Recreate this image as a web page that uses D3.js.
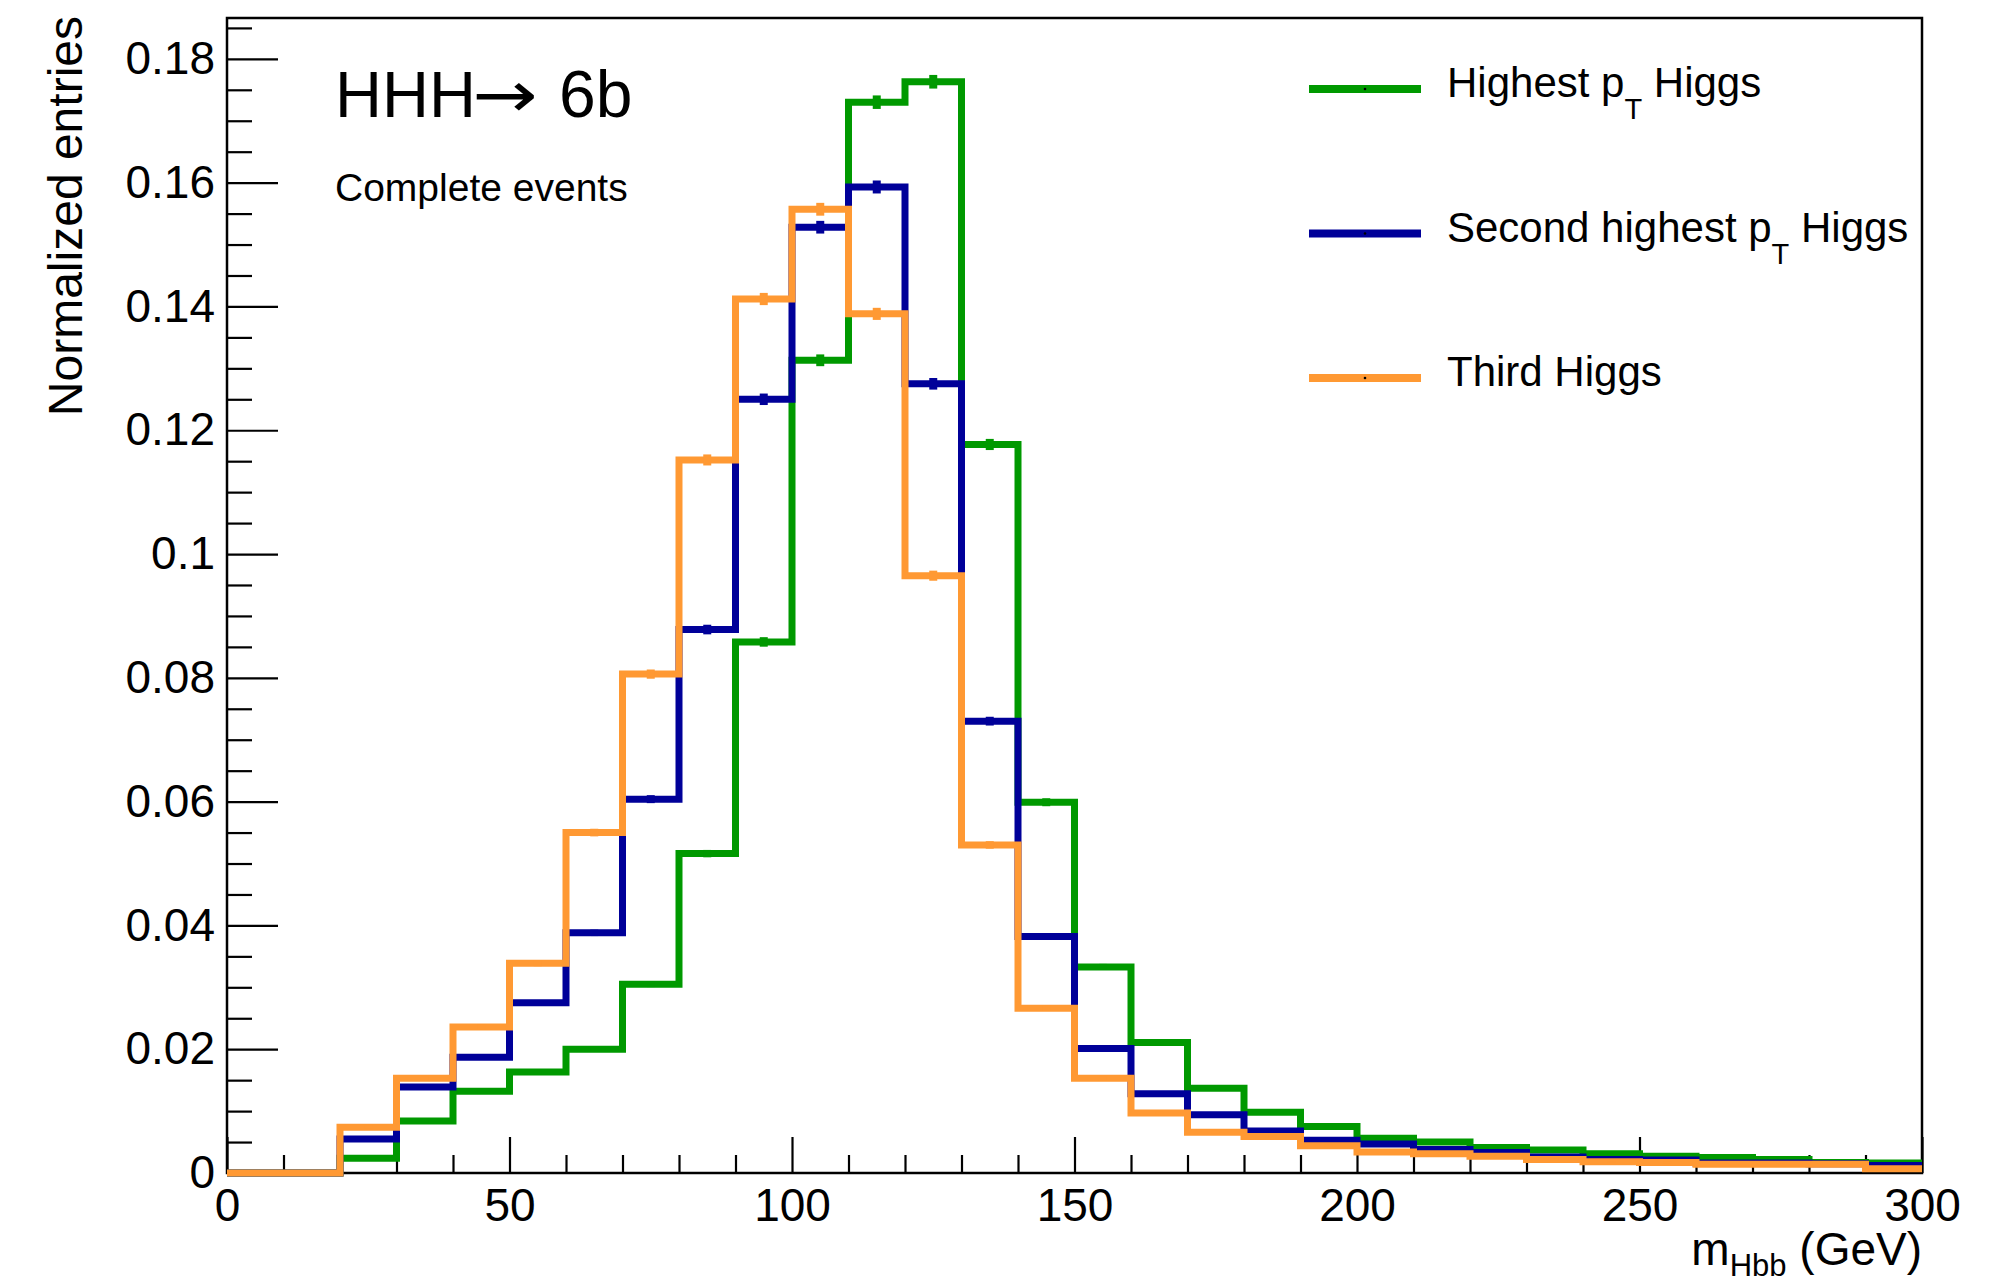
<!DOCTYPE html>
<html>
<head>
<meta charset="utf-8">
<script src="https://cdn.jsdelivr.net/npm/d3@7"></script>
<style>
  html, body { margin: 0; padding: 0; background: #ffffff; }
  svg { display: block; }
  text { font-family: "Liberation Sans", Arial, Helvetica, sans-serif; fill: #000; white-space: pre; }
</style>
</head>
<body>
<svg id="chart" width="2003" height="1277"></svg>
<script>
// m_Hbb bin edges (GeV), 10 GeV bins
const binEdges = [0, 10, 20, 30, 40, 50, 60, 70, 80, 90, 100, 110, 120, 130, 140, 150,
                  160, 170, 180, 190, 200, 210, 220, 230, 240, 250, 260, 270, 280, 290, 300];

// Normalized entries per bin
const highestPtHiggs = [0, 0, 0.0024, 0.0084, 0.0132, 0.0163, 0.0200, 0.0305, 0.0516, 0.0858,
                        0.1313, 0.1730, 0.1763, 0.1177, 0.0599, 0.0333, 0.0211, 0.0137, 0.0098, 0.0075,
                        0.0056, 0.0050, 0.0041, 0.0037, 0.0031, 0.0027, 0.0025, 0.0022, 0.0017, 0.0016];
const secondPtHiggs  = [0, 0, 0.0055, 0.0139, 0.0187, 0.0275, 0.0388, 0.0604, 0.0878, 0.1250,
                        0.1528, 0.1593, 0.1275, 0.0730, 0.0382, 0.0201, 0.0128, 0.0094, 0.0068, 0.0053,
                        0.0047, 0.0038, 0.0033, 0.0026, 0.0022, 0.0021, 0.0016, 0.0016, 0.0015, 0.0012];
const thirdHiggs     = [0, 0, 0.0074, 0.0153, 0.0236, 0.0339, 0.0550, 0.0806, 0.1152, 0.1412,
                        0.1557, 0.1388, 0.0965, 0.0530, 0.0266, 0.0153, 0.0097, 0.0066, 0.0059, 0.0044,
                        0.0034, 0.0031, 0.0027, 0.0022, 0.0018, 0.0017, 0.0014, 0.0014, 0.0014, 0.0007];

// Effective sample size used for the statistical error bars, sqrt(N)/N per bin
const sampleSize = 145000;

// Axis ticks and labels
const yMajorTicks = [0, 0.02, 0.04, 0.06, 0.08, 0.1, 0.12, 0.14, 0.16, 0.18];
const yTickLabels = ["0", "0.02", "0.04", "0.06", "0.08", "0.1", "0.12", "0.14", "0.16", "0.18"];
const xMajorTicks = [0, 50, 100, 150, 200, 250, 300];
const xTickLabels = ["0", "50", "100", "150", "200", "250", "300"];

const seriesNames  = ["Highest", "Second highest", "Third Higgs"];
const seriesColors = ["#009900", "#000099", "#ff9933"];

const series = [
  { values: highestPtHiggs, color: seriesColors[0], label: [seriesNames[0] + " p", "T", " Higgs"] },
  { values: secondPtHiggs,  color: seriesColors[1], label: [seriesNames[1] + " p", "T", " Higgs"] },
  { values: thirdHiggs,     color: seriesColors[2], label: [seriesNames[2]] }
];

const svg = d3.select("#chart");
const frame = { left: 227, right: 1922, top: 18, bottom: 1173 };

const x = d3.scaleLinear().domain([0, 300]).range([frame.left, frame.right]);
const y = d3.scaleLinear().domain([0, 0.1866]).range([frame.bottom, frame.top]);

svg.append("rect").attr("width", 2003).attr("height", 1277).attr("fill", "#fff");

// ---- axes (ticks point into the frame) ----
const yIdx = new Map(yMajorTicks.map((t, i) => [t, yTickLabels[i]]));
const xIdx = new Map(xMajorTicks.map((t, i) => [t, xTickLabels[i]]));

const yMinor = d3.range(0, 0.1866, 0.005).filter(v => !yMajorTicks.some(t => Math.abs(t - v) < 1e-9));
const xMinor = d3.range(0, 301, 10).filter(v => v % 50 !== 0);

const gyMinor = svg.append("g").attr("transform", `translate(${frame.left},0)`)
  .call(d3.axisLeft(y).tickValues(yMinor).tickSizeInner(-25).tickSizeOuter(0).tickFormat(""));
const gy = svg.append("g").attr("transform", `translate(${frame.left},0)`)
  .call(d3.axisLeft(y).tickValues(yMajorTicks).tickSizeInner(-51).tickSizeOuter(0)
        .tickPadding(12).tickFormat(d => yIdx.get(d)));

const gxMinor = svg.append("g").attr("transform", `translate(0,${frame.bottom})`)
  .call(d3.axisBottom(x).tickValues(xMinor).tickSizeInner(-18).tickSizeOuter(0).tickFormat(""));
const gx = svg.append("g").attr("transform", `translate(0,${frame.bottom})`)
  .call(d3.axisBottom(x).tickValues(xMajorTicks).tickSizeInner(-36).tickSizeOuter(0)
        .tickPadding(15).tickFormat(d => xIdx.get(d)));

[gyMinor, gy, gxMinor, gx].forEach(g => {
  g.select(".domain").remove();
  g.selectAll(".tick line").attr("stroke", "#000").attr("stroke-width", 2.2);
  g.selectAll(".tick text").attr("font-size", 46).attr("fill", "#000");
});

// frame
svg.append("rect")
  .attr("x", frame.left).attr("y", frame.top)
  .attr("width", frame.right - frame.left).attr("height", frame.bottom - frame.top)
  .attr("fill", "none").attr("stroke", "#000").attr("stroke-width", 2.5);

// ---- histograms ----
const stepLine = d3.line()
  .x(d => x(d[0]))
  .y(d => y(d[1]))
  .curve(d3.curveStepAfter);

series.forEach(s => {
  const pts = s.values.map((v, i) => [binEdges[i], v]);
  pts.push([binEdges[binEdges.length - 1], s.values[s.values.length - 1]]);

  const g = svg.append("g");
  g.append("path")
    .attr("d", stepLine(pts))
    .attr("fill", "none")
    .attr("stroke", s.color)
    .attr("stroke-width", 7)
    .attr("stroke-linejoin", "miter");

  // statistical error bars at bin centres
  g.selectAll("line.err")
    .data(s.values.map((v, i) => ({ c: (binEdges[i] + binEdges[i + 1]) / 2, v })).filter(d => d.v > 0))
    .join("line")
    .attr("class", "err")
    .attr("x1", d => x(d.c)).attr("x2", d => x(d.c))
    .attr("y1", d => y(d.v + Math.sqrt(d.v / sampleSize)))
    .attr("y2", d => y(Math.max(0, d.v - Math.sqrt(d.v / sampleSize))))
    .attr("stroke", s.color)
    .attr("stroke-width", 8);
});

// ---- text annotations ----
// process label: HHH -> 6b, with a long arrow
svg.append("text")
  .attr("x", 335).attr("y", 117)
  .attr("font-size", 65)
  .text("HHH");
svg.append("text")
  .attr("transform", "translate(472,117) scale(1.22,1)")
  .attr("font-size", 64)
  .style("font-family", "'DejaVu Sans', sans-serif")
  .text("\u2192");
svg.append("text")
  .attr("x", 559).attr("y", 117)
  .attr("font-size", 66)
  .text("6b");

svg.append("text")
  .attr("x", 335).attr("y", 201)
  .attr("font-size", 39)
  .text("Complete events");

// y-axis title
svg.append("text")
  .attr("transform", "translate(82,16) rotate(-90)")
  .attr("text-anchor", "end")
  .attr("font-size", 48)
  .text("Normalized entries");

// x-axis title
const xt = svg.append("text")
  .attr("x", frame.right).attr("y", 1265)
  .attr("text-anchor", "end")
  .attr("font-size", 46);
xt.append("tspan").text("m");
xt.append("tspan").attr("font-size", 31).attr("dy", 11).text("Hbb");
xt.append("tspan").attr("dy", -11).text(" (GeV)");

// ---- legend ----
const legendLineX = [1309, 1421];
const legendTop = 89, legendStep = 144.5;

series.forEach((s, i) => {
  const ly = legendTop + i * legendStep;
  svg.append("line")
    .attr("x1", legendLineX[0]).attr("x2", legendLineX[1])
    .attr("y1", ly).attr("y2", ly)
    .attr("stroke", s.color).attr("stroke-width", 8);
  svg.append("circle")
    .attr("cx", (legendLineX[0] + legendLineX[1]) / 2).attr("cy", ly)
    .attr("r", 1.3).attr("fill", "#000");

  const t = svg.append("text")
    .attr("x", 1447).attr("y", ly + 8)
    .attr("font-size", 42);
  t.append("tspan").text(s.label[0]);
  if (s.label.length > 1) {
    t.append("tspan").attr("font-size", 29).attr("dy", 22).text(s.label[1]);
    t.append("tspan").attr("dy", -22).text(s.label[2]);
  }
});
</script>
</body>
</html>
